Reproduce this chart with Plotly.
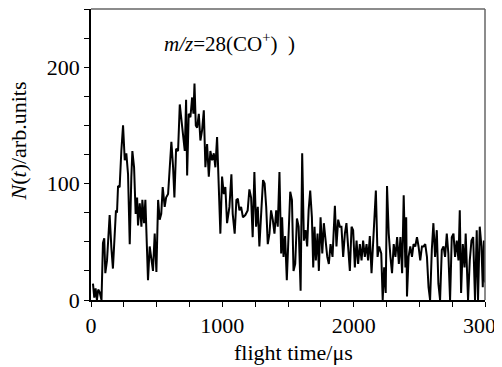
import plotly.graph_objects as go

flight_time = [15, 25, 35, 45, 55, 65, 80, 91, 101, 109, 122, 142, 155, 167, 190, 198, 206, 218, 231, 244,
               257, 269, 282, 295, 307, 315, 328, 340, 351, 358, 371, 384, 391, 404, 414, 434, 447, 460, 472, 485,
               498, 511, 523, 535, 546, 561, 572, 587, 597, 612, 625, 635, 648, 663, 676, 689, 701, 714, 724, 732,
               744, 757, 770, 780, 788, 798, 808, 821, 833, 846, 859, 871, 884, 897, 909, 922, 935, 947, 960, 973,
               985, 998, 1011, 1023, 1036, 1054, 1069, 1079, 1094, 1107, 1118, 1130, 1143, 1157, 1175, 1193, 1206, 1219, 1231, 1244,
               1257, 1270, 1282, 1297, 1310, 1322, 1334, 1346, 1359, 1371, 1384, 1397, 1410, 1422, 1435, 1448, 1455, 1466, 1478, 1491,
               1517, 1530, 1542, 1555, 1568, 1581, 1596, 1608, 1621, 1634, 1646, 1657, 1669, 1682, 1692, 1702, 1712, 1725, 1735, 1748,
               1761, 1773, 1786, 1799, 1811, 1824, 1839, 1857, 1869, 1882, 1895, 1907, 1920, 1933, 1945, 1958, 1971, 1984, 1996, 2009,
               2022, 2034, 2047, 2060, 2072, 2085, 2098, 2110, 2123, 2136, 2148, 2169, 2182, 2194, 2210, 2221, 2232, 2244, 2254, 2267,
               2280, 2292, 2305, 2318, 2331, 2344, 2356, 2369, 2381, 2394, 2400, 2406, 2418, 2431, 2444, 2456, 2469, 2482, 2494, 2507,
               2520, 2532, 2545, 2558, 2570, 2582, 2595, 2607, 2620, 2633, 2645, 2658, 2671, 2684, 2696, 2709, 2721, 2734, 2747, 2760,
               2772, 2785, 2798, 2808, 2818, 2831, 2844, 2853, 2871, 2884, 2897, 2910, 2924, 2937, 2947, 2960, 2973, 2983, 2991, 3000]

counts = [14, 2, 10, 0, 9, 7, 0, 49, 53, 23, 34, 73, 45, 27, 77, 75, 98, 97, 128, 150,
          120, 126, 108, 48, 105, 128, 114, 74, 88, 64, 83, 63, 86, 66, 86, 17, 46, 37, 25, 57,
          24, 86, 69, 74, 97, 80, 88, 91, 108, 136, 114, 88, 130, 128, 168, 154, 140, 128, 172, 107,
          160, 157, 174, 160, 186, 150, 148, 160, 137, 146, 163, 114, 134, 106, 128, 120, 126, 114, 140, 97,
          57, 106, 91, 97, 66, 80, 108, 74, 57, 86, 87, 77, 80, 71, 73, 77, 95, 88, 54, 110,
          63, 80, 46, 77, 103, 100, 80, 48, 57, 77, 69, 57, 77, 63, 110, 40, 71, 37, 55, 17,
          93, 86, 25, 31, 70, 63, 8, 126, 51, 60, 46, 77, 94, 71, 28, 63, 34, 57, 25, 71,
          40, 66, 48, 37, 31, 48, 37, 81, 46, 69, 63, 63, 37, 57, 66, 46, 25, 63, 60, 28,
          51, 31, 48, 34, 51, 37, 48, 34, 55, 23, 46, 94, 37, 46, 40, 0, 28, 6, 98, 57,
          37, 23, 48, 37, 54, 31, 54, 23, 90, 28, 71, 3, 37, 46, 37, 48, 46, 54, 46, 34,
          46, 46, 48, 37, 11, 0, 43, 66, 37, 60, 14, 0, 43, 46, 37, 57, 40, 0, 54, 57,
          37, 51, 34, 77, 6, 48, 28, 57, 0, 34, 51, 54, 0, 60, 0, 63, 46, 11, 51, 15]

x_ticks = [0, 1000, 2000, 3000]
y_ticks = [0, 100, 200]

FONT = "Liberation Serif"

fig = go.Figure()
fig.add_trace(go.Scatter(x=flight_time, y=counts, mode="lines",
                         line=dict(color="black", width=2), showlegend=False))

# the page body adds an 8px offset; figure is sized so the plot lands where the reference has it
fig.update_layout(
    width=494, height=359,
    margin=dict(l=83, r=17, t=1, b=67, autoexpand=False),
    paper_bgcolor="white", plot_bgcolor="white",
    font=dict(family=FONT, size=21, color="black"),
    xaxis=dict(range=[0, 3000], tickvals=x_ticks, ticktext=[str(v) for v in x_ticks],
               showgrid=False, zeroline=False, showline=True, linecolor="black", linewidth=1.5,
               ticks="outside", ticklen=5, tickwidth=1, tickcolor="black",
               minor=dict(dtick=250, ticks="outside", ticklen=5, tickcolor="black", tickwidth=1),
               tickfont=dict(family=FONT, size=22, color="black"), ticklabeloverflow="allow", automargin=False),
    yaxis=dict(range=[0, 250], tickvals=y_ticks, ticktext=[str(v) for v in y_ticks],
               showgrid=False, zeroline=False, showline=True, linecolor="black", linewidth=1.5,
               ticks="outside", ticklen=5, tickwidth=1, tickcolor="black",
               minor=dict(dtick=25, ticks="outside", ticklen=5, tickcolor="black", tickwidth=1),
               tickfont=dict(family=FONT, size=22, color="black"), ticklabeloverflow="allow", automargin=False),
)

# box top and right edges (grey)
fig.add_shape(type="line", xref="paper", yref="paper", x0=0, x1=1, y0=1, y1=1,
              line=dict(color="#666666", width=1.5))
fig.add_shape(type="line", xref="paper", yref="paper", x0=1, x1=1, y0=0, y1=1,
              line=dict(color="#666666", width=1.5))

fig.add_annotation(text="<i>m/z</i>=28(CO<sup>+</sup>)  )", xref="paper", yref="paper",
                   x=0.18, y=0.885, xanchor="left", yanchor="middle", showarrow=False,
                   font=dict(family=FONT, size=21, color="black"))
fig.add_annotation(text="flight time/μs", xref="paper", yref="paper",
                   x=0.515, y=-0.18, xanchor="center", yanchor="middle", showarrow=False,
                   font=dict(family=FONT, size=22, color="black"))
fig.add_annotation(text="<i>N</i>(<i>t</i>)/arb.units", xref="paper", yref="paper",
                   x=-0.185, y=0.545, xanchor="center", yanchor="middle", showarrow=False,
                   textangle=-90, font=dict(family=FONT, size=22, color="black"))

fig.write_html("out.html")
